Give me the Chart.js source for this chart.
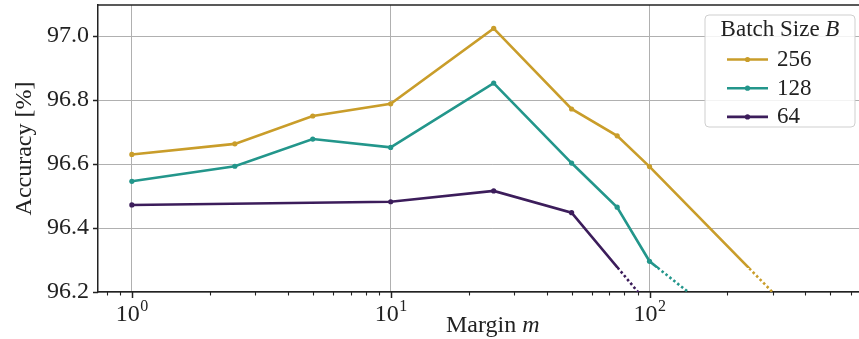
<!DOCTYPE html>
<html>
<head>
<meta charset="utf-8">
<script src="https://cdn.jsdelivr.net/npm/chart.js@4.4.0/dist/chart.umd.min.js"></script>
<style>
  html, body { margin: 0; padding: 0; overflow: hidden; background: #fff; }
  #wrap { width: 890px; height: 339px; }
</style>
</head>
<body>
<div id="wrap"><canvas id="grafico"></canvas></div>
<script>
// datos
var margin256 = [1, 2.5, 5, 10, 25, 50, 75, 100, 500];
var acc256 = [96.63, 96.663, 96.75, 96.788, 97.024, 96.772, 96.688, 96.592, 96.015];
var margin128 = [1, 2.5, 5, 10, 25, 50, 75, 100, 250];
var acc128 = [96.546, 96.593, 96.678, 96.652, 96.853, 96.603, 96.465, 96.296, 96.04];
var margin64 = [1, 10, 25, 50, 100];
var acc64 = [96.472, 96.482, 96.516, 96.448, 96.157];

var batchLabels = ['256', '128', '64'];
var colores = ['#c99d2a', '#23968b', '#3c1d5b'];
var yTicks = [96.2, 96.4, 96.6, 96.8, 97.0];
var xMajor = [1, 10, 100];
var corteDotted = 96.275; // debajo de esto la linea es punteada

var FUENTE = '"Liberation Serif", "Times New Roman", serif';

function puntos(xs, ys) {
  return xs.map(function (x, i) { return { x: x, y: ys[i] }; });
}

var series = [puntos(margin256, acc256), puntos(margin128, acc128), puntos(margin64, acc64)];
var datasets = [];
series.forEach(function (d, i) {
  datasets.push({
    label: batchLabels[i], parte: 'solid', data: d,
    borderColor: colores[i], backgroundColor: colores[i],
    borderWidth: 2.6, pointRadius: 2.6, pointHoverRadius: 2.6, pointBorderWidth: 0
  });
  datasets.push({
    label: batchLabels[i] + '_dot', parte: 'dot', data: d,
    borderColor: colores[i], borderWidth: 2.6, borderDash: [2.5, 2.5],
    pointRadius: 0, pointHoverRadius: 0
  });
});

// minor ticks del eje log
var xMinor = [];
[0.1, 1, 10, 100].forEach(function (dec) {
  for (var k = 2; k <= 9; k++) xMinor.push(k * dec);
});

// clip para separar la parte solida de la punteada
var cortePlugin = {
  id: 'corte',
  beforeDatasetDraw: function (chart, args) {
    var ds = chart.data.datasets[args.index];
    var ctx = chart.ctx;
    var yPix = chart.scales.y.getPixelForValue(corteDotted);
    ctx.save();
    ctx.beginPath();
    if (ds.parte === 'solid') ctx.rect(0, 0, chart.width, yPix);
    else ctx.rect(0, yPix, chart.width, chart.height - yPix);
    ctx.clip();
  },
  afterDatasetDraw: function (chart) {
    chart.ctx.restore();
  }
};

var ejesPlugin = {
  id: 'ejes',
  afterDraw: function (chart) {
    var ctx = chart.ctx;
    var area = chart.chartArea;
    var xs = chart.scales.x, ys = chart.scales.y;
    ctx.save();
    ctx.strokeStyle = '#222';
    // marco superior
    ctx.lineWidth = 1.5;
    ctx.beginPath();
    ctx.moveTo(area.left, area.top);
    ctx.lineTo(area.right, area.top);
    ctx.stroke();
    // ticks y
    yTicks.forEach(function (v) {
      var p = Math.round(ys.getPixelForValue(v)) + 0.5;
      ctx.beginPath();
      ctx.moveTo(area.left - 5, p);
      ctx.lineTo(area.left, p);
      ctx.stroke();
    });
    // ticks x mayores
    xMajor.forEach(function (v) {
      var p = Math.round(xs.getPixelForValue(v)) + 0.5;
      ctx.beginPath();
      ctx.moveTo(p, area.bottom);
      ctx.lineTo(p, area.bottom + 6);
      ctx.stroke();
    });
    ctx.lineWidth = 1.1;
    xMinor.forEach(function (v) {
      var p = xs.getPixelForValue(v);
      if (p < area.left || p > area.right) return;
      p = Math.round(p) + 0.5;
      ctx.beginPath();
      ctx.moveTo(p, area.bottom);
      ctx.lineTo(p, area.bottom + 3.5);
      ctx.stroke();
    });
    // etiquetas x 10^k
    ctx.fillStyle = '#222';
    ctx.textBaseline = 'alphabetic';
    xMajor.forEach(function (v) {
      var p = xs.getPixelForValue(v);
      var exp = String(Math.round(Math.log10(v)));
      ctx.font = '24px ' + FUENTE;
      var wBase = ctx.measureText('10').width;
      ctx.font = '16px ' + FUENTE;
      var wExp = ctx.measureText(exp).width;
      var x0 = p - (wBase + wExp) / 2;
      ctx.font = '24px ' + FUENTE;
      ctx.textAlign = 'left';
      ctx.fillText('10', x0, 321);
      ctx.font = '16px ' + FUENTE;
      ctx.fillText(exp, x0 + wBase + 0.5, 311);
    });
    // titulo eje x: Margin m
    ctx.font = '24px ' + FUENTE;
    var t1 = 'Margin ';
    var w1 = ctx.measureText(t1).width;
    ctx.font = 'italic 24px ' + FUENTE;
    var w2 = ctx.measureText('m').width;
    var cx = (area.left + area.right) / 2;
    var xStart = cx - (w1 + w2) / 2;
    ctx.font = '24px ' + FUENTE;
    ctx.fillText(t1, xStart, 332);
    ctx.font = 'italic 24px ' + FUENTE;
    ctx.fillText('m', xStart + w1, 332);
    ctx.restore();
  }
};

var leyendaPlugin = {
  id: 'leyenda',
  afterDraw: function (chart) {
    var ctx = chart.ctx;
    var bx = 705, by = 15, bw = 150, bh = 112, r = 4;
    ctx.save();
    ctx.fillStyle = 'rgba(255,255,255,0.85)';
    ctx.strokeStyle = '#cfcfcf';
    ctx.lineWidth = 1;
    ctx.beginPath();
    ctx.moveTo(bx + r, by);
    ctx.arcTo(bx + bw, by, bx + bw, by + bh, r);
    ctx.arcTo(bx + bw, by + bh, bx, by + bh, r);
    ctx.arcTo(bx, by + bh, bx, by, r);
    ctx.arcTo(bx, by, bx + bw, by, r);
    ctx.closePath();
    ctx.fill();
    ctx.stroke();
    // titulo
    ctx.fillStyle = '#222';
    ctx.textBaseline = 'alphabetic';
    ctx.font = '23px ' + FUENTE;
    var a = 'Batch Size ';
    var wa = ctx.measureText(a).width;
    ctx.font = 'italic 23px ' + FUENTE;
    var wb = ctx.measureText('B').width;
    var x0 = bx + bw / 2 - (wa + wb) / 2;
    ctx.font = '23px ' + FUENTE;
    ctx.fillText(a, x0, 36);
    ctx.font = 'italic 23px ' + FUENTE;
    ctx.fillText('B', x0 + wa, 36);
    // entradas
    var items = chart.data.datasets.filter(function (d) { return d.parte === 'solid'; });
    items.forEach(function (d, i) {
      var y = 59.5 + i * 28.7;
      ctx.strokeStyle = d.borderColor;
      ctx.lineWidth = 2.6;
      ctx.beginPath();
      ctx.moveTo(727, y);
      ctx.lineTo(768, y);
      ctx.stroke();
      ctx.fillStyle = d.borderColor;
      ctx.beginPath();
      ctx.arc(747.5, y, 2.6, 0, Math.PI * 2);
      ctx.fill();
      ctx.fillStyle = '#222';
      ctx.font = '23px ' + FUENTE;
      ctx.fillText(d.label, 777, y + 6.5);
    });
    ctx.restore();
  }
};

var ctx = document.getElementById('grafico').getContext('2d');
var grafico = new Chart(ctx, {
  type: 'line',
  data: { datasets: datasets },
  plugins: [cortePlugin, ejesPlugin, leyendaPlugin],
  options: {
    responsive: true,
    maintainAspectRatio: false,
    animation: false,
    events: [],
    layout: { padding: { top: 5, right: 0, left: 0, bottom: 0 } },
    plugins: {
      legend: { display: false },
      tooltip: { enabled: false }
    },
    scales: {
      x: {
        type: 'logarithmic',
        bounds: 'data',
        min: 0.74,
        max: 830,
        afterBuildTicks: function (scale) {
          scale.ticks = xMajor.map(function (v) { return { value: v }; });
        },
        afterFit: function (scale) {
          scale.height = 47;
          scale.paddingLeft = 0; scale.paddingRight = 0;
        },
        ticks: { display: false },
        grid: { color: '#b0b0b0', lineWidth: 1, drawTicks: false },
        border: { color: '#222', width: 1.5 }
      },
      y: {
        type: 'linear',
        bounds: 'data',
        min: 96.2,
        max: 97.097,
        afterBuildTicks: function (scale) {
          scale.ticks = yTicks.map(function (v) { return { value: v }; });
        },
        afterFit: function (scale) {
          scale.width = 98;
          scale.paddingTop = 0; scale.paddingBottom = 0;
        },
        ticks: {
          color: '#222',
          padding: 9,
          font: { family: FUENTE, size: 24 },
          callback: function (v) { return Number(v).toFixed(1); }
        },
        grid: { color: '#b0b0b0', lineWidth: 1, drawTicks: false },
        border: { color: '#222', width: 1.5 },
        title: {
          display: true,
          text: 'Accuracy [%]',
          color: '#222',
          font: { family: FUENTE, size: 24 },
          padding: { top: 10, bottom: 0 }
        }
      }
    }
  }
});
</script>
</body>
</html>
